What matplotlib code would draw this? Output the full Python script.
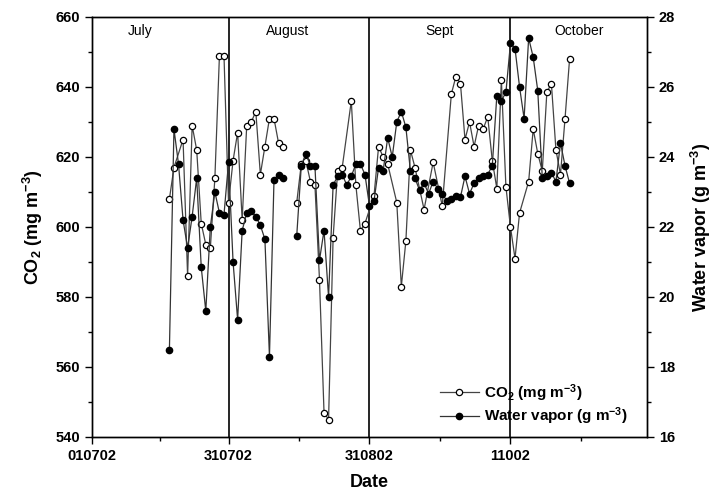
import numpy as np
import matplotlib
matplotlib.use("Agg")
import matplotlib.pyplot as plt
from matplotlib.ticker import MultipleLocator, FixedLocator

plt.rcParams['font.family'] = ['Liberation Sans', 'DejaVu Sans']
plt.rcParams['mathtext.default'] = 'regular'

# days counted from 1 July 2002
co2_day = [17, 18, 20, 21, 22, 23, 24, 25, 26, 27, 28, 29, 30, 31, 32, 33, 34, 35,
           36, 37, 38, 39, 40, 41, 42, 43, 45, 46, 47, 48, 49, 50, 51, 52, 53, 54, 55,
           57, 58, 59, 60, 62, 63, 64, 65, 67, 68, 69, 70, 71, 73, 75, 77, 79,
           80, 81, 82, 83, 84, 85, 86, 87, 88, 89, 90, 91, 92, 93, 94, 96, 97,
           98, 99, 100, 101, 102, 103, 104, 105]
co2_val = [608, 617, 625, 586, 629, 622, 601, 595, 594, 614, 649, 649, 607, 619, 627, 602, 629, 630,
           633, 615, 623, 631, 631, 624, 623, np.nan, 607, 618, 619, 613, 612, 585, 547, 545, 597, 616, 617,
           636, 612, 599, 601, 609, 623, 620, 618, 607, 583, 596, 622, 617, 605, 618.5, 606, 638,
           643, 641, 625, 630, 623, 629, 628, 631.5, 619, 611, 642, 611.5, 600, 591, 604, 613, 628,
           621, 616, 638.5, 641, 622, 615, 631, 648]

wv_day = list(range(17, 44)) + list(range(45, 106))
wv_val = [18.5, 24.8, 23.8, 22.2, 21.4, 22.3, 23.4, 20.85, 19.6, 22.0, 23.0, 22.4, 22.35, 23.85,
          21.0, 19.35, 21.9, 22.4, 22.45, 22.3, 22.05, 21.65, 18.3, 23.35, 23.5, 23.4, np.nan,
          21.75, 23.75, 24.1, 23.75, 23.75, 21.05, 21.9, 20.0, 23.2, 23.45, 23.5, 23.2, 23.45,
          23.8, 23.8, 23.5, 22.6, 22.75, 23.7, 23.6, 24.55, 24.0, 25.0, 25.3, 24.85, 23.6, 23.4,
          23.05, 23.25, 22.95, 23.3, 23.1, 22.95, 22.75, 22.8, 22.9, 22.85, 23.45, 22.95, 23.25,
          23.4, 23.45, 23.5, 23.75, 25.75, 25.6, 25.85, 27.25, 27.1, 26.0, 25.1, 27.4, 26.85,
          25.9, 23.4, 23.45, 23.55, 23.3, 24.4, 23.75, 23.25]

month_names = ["July", "August", "Sept", "October"]
month_mid = [10.5, 43, 76.5, 107]
month_edges = [30, 61, 92]
tick_days = [0, 30, 61, 92]
tick_labels = ["010702", "310702", "310802", "11002"]

fig, ax = plt.subplots(figsize=(7.14, 5.0), dpi=100)
fig.subplots_adjust(left=0.129, right=0.906, top=0.966, bottom=0.126)
ax2 = ax.twinx()

co2_line, = ax.plot(co2_day, co2_val, color="#444444", lw=0.9, marker="o", ms=4.5,
                    mfc="white", mec="black", mew=0.9, zorder=3)
wv_line, = ax2.plot(wv_day, wv_val, color="#333333", lw=0.9, marker="o", ms=4.5,
                    mfc="black", mec="black", zorder=3)

for d in month_edges:
    ax.axvline(d, color="black", lw=1.2, zorder=1)

for name, d in zip(month_names, month_mid):
    ax.text(d, 0.967, name, transform=ax.get_xaxis_transform(), ha="center", va="center",
            fontsize=10)

ax.set_xlim(0, 122)
ax.set_ylim(540, 660)
ax2.set_ylim(16, 28)

ax.xaxis.set_major_locator(FixedLocator(tick_days))
ax.set_xticklabels(tick_labels)
ax.xaxis.set_minor_locator(FixedLocator([15, 45.5, 76.5, 107.5]))
ax.yaxis.set_major_locator(MultipleLocator(20))
ax.yaxis.set_minor_locator(MultipleLocator(10))
ax2.yaxis.set_major_locator(MultipleLocator(2))
ax2.yaxis.set_minor_locator(MultipleLocator(1))

for a in (ax, ax2):
    a.tick_params(which="major", direction="out", length=5, width=1, labelsize=10.5)
    a.tick_params(which="minor", direction="out", length=3, width=1)
    for lab in a.get_xticklabels() + a.get_yticklabels():
        lab.set_fontweight("bold")
    for s in a.spines.values():
        s.set_linewidth(1)

ax.set_xlabel("Date", fontsize=13, fontweight="bold", labelpad=8)
ax.set_ylabel("CO$_2$ (mg m$^{-3}$)", fontsize=13, fontweight="bold", labelpad=8)
ax2.set_ylabel("Water vapor (g m$^{-3}$)", fontsize=13, fontweight="bold", labelpad=10)

ax2.legend([co2_line, wv_line], ["CO$_2$ (mg m$^{-3}$)", "Water vapor (g m$^{-3}$)"],
           loc="lower right", bbox_to_anchor=(0.99, -0.01), frameon=False,
           prop={"size": 11, "weight": "bold"}, handlelength=2.6, handletextpad=0.3,
           labelspacing=0.15)

fig.savefig("out.png", dpi=100)
